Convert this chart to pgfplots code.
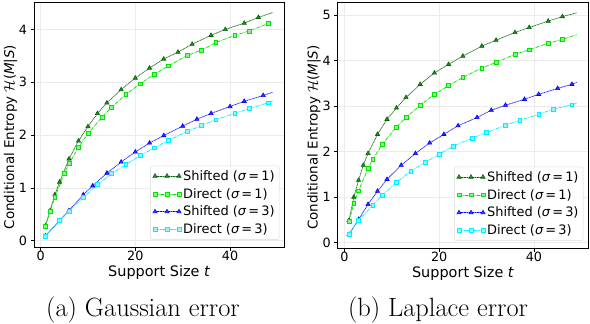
\documentclass[border=0pt]{standalone}
\usepackage{fontspec}
\usepackage{pgfplots}
\pgfplotsset{compat=1.18}
\newfontfamily\dejavu{DejaVu Sans}
\definecolor{sdkg}{RGB}{0,100,0}
\definecolor{slime}{RGB}{0,230,0}
\definecolor{sblue}{RGB}{0,0,255}
\definecolor{scyan}{RGB}{0,240,255}
\definecolor{gridc}{RGB}{235,235,235}
\pgfplotsset{
  myax/.style={
    scale only axis,
    xmin=-1.4, xmax=51.4,
    xtick={0,20,40},
    axis line style={line width=0.6pt},
    tick align=outside,
    xtick pos=bottom, ytick pos=left,
    major tick length=3.5bp,
    tick style={black, line width=0.6pt},
    grid=major,
    grid style={gridc, line width=0.5pt},
    /pgf/number format/assume math mode=true,
    ticklabel style={font=\dejavu\fontsize{12.8}{15}\selectfont},
    xticklabel style={anchor=base, yshift=-9.5bp},
    xlabel={Support Size {\itshape t}},
    ylabel={Conditional Entropy $\mathcal{H}$({\itshape M}|{\itshape S})},
    xlabel style={font=\dejavu\fontsize{14.5}{17}\selectfont, at={(axis description cs:0.5,0)}, anchor=base, yshift=-29.5bp},
    ylabel style={font=\dejavu\fontsize{13.5}{16}\selectfont, at={(axis description cs:-0.094,0.449)}, anchor=center},
    legend cell align=left,
    legend style={font=\dejavu\fontsize{13}{15}\selectfont,
      draw=black!15, rounded corners=2pt, fill=white, fill opacity=0.85, text opacity=1,
      row sep=2.5bp, inner sep=2.5bp,
      at={(rel axis cs:0.981,0.029)}, anchor=south east},
    legend image code/.code={
      \draw[#1, solid, opacity=0.5, mark=none] (0bp,0bp) -- (24bp,0bp);
      \draw[mark repeat=2,mark phase=2,#1] plot coordinates {(0bp,0bp) (12bp,0bp) (24bp,0bp)};
    },
  },
  sA/.style={sdkg, densely dotted, line width=0.6pt, mark=triangle*, mark size=2.4bp,
     mark options={solid, fill=sdkg!80, draw=sdkg}},
  sB/.style={slime, dashed, line width=0.6pt, mark=square*, mark size=1.9bp,
     mark options={solid, fill=slime!45, draw=slime}},
  sC/.style={sblue, densely dotted, line width=0.6pt, mark=triangle*, mark size=2.4bp,
     mark options={solid, fill=sblue!80, draw=sblue}},
  sD/.style={scyan, dashdotted, line width=0.6pt, mark=square*, mark size=1.9bp,
     mark options={solid, fill=scyan!45, draw=scyan}},
  under/.style={solid, line width=0.7pt, opacity=0.45, mark=none, forget plot},
}
\begin{document}
\begin{tikzpicture}
\useasboundingbox (0,0) rectangle (590bp,-324bp);
% ---------------- (a) Gaussian ----------------
\begin{axis}[myax, at={(34bp,-247bp)}, anchor=south west,
  width=250bp, height=245bp, ymin=-0.12, ymax=4.52, ytick={0,1,2,3,4}]
\addplot[sdkg, under] coordinates {(1,0.28)(2,0.57)(3,0.87)(4,1.11)(6,1.55)(8,1.89)(10,2.16)(12,2.41)(14,2.61)(17,2.86)(20,3.08)(23,3.27)(26,3.44)(29,3.57)(32,3.72)(36,3.89)(39,4.00)(43,4.12)(46,4.23)(49,4.32)};
\addplot[sA, mark indices={1,2,3,4,5,6,7,8,9,10,11,12,13,14,15,16,17,18,19}] coordinates {(1,0.28)(2,0.57)(3,0.87)(4,1.11)(6,1.55)(8,1.89)(10,2.16)(12,2.41)(14,2.61)(17,2.86)(20,3.08)(23,3.27)(26,3.44)(29,3.57)(32,3.72)(36,3.89)(39,4.00)(43,4.12)(46,4.23)(49,4.32)};
\addlegendentry{Shifted ({\itshape σ}\,=\,1)}
\addplot[slime, under] coordinates {(1,0.27)(2,0.56)(3,0.82)(5,1.27)(6,1.46)(8,1.77)(10,2.03)(13,2.34)(15,2.53)(18,2.77)(21,2.97)(24,3.15)(27,3.31)(31,3.51)(34,3.61)(37,3.75)(41,3.89)(44,3.97)(48,4.11)(49,4.14)};
\addplot[sB, mark indices={1,2,3,4,5,6,7,8,9,10,11,12,13,14,15,16,17,18,19}] coordinates {(1,0.27)(2,0.56)(3,0.82)(5,1.27)(6,1.46)(8,1.77)(10,2.03)(13,2.34)(15,2.53)(18,2.77)(21,2.97)(24,3.15)(27,3.31)(31,3.51)(34,3.61)(37,3.75)(41,3.89)(44,3.97)(48,4.11)(49,4.14)};
\addlegendentry{Direct ({\itshape σ}\,=\,1)}
\addplot[sblue, under] coordinates {(1,0.09)(4,0.38)(6,0.57)(9,0.87)(11,1.04)(14,1.28)(17,1.49)(20,1.68)(23,1.85)(26,1.99)(30,2.17)(33,2.30)(36,2.41)(40,2.54)(43,2.64)(47,2.75)(49,2.81)};
\addplot[sC, mark indices={1,2,3,4,5,6,7,8,9,10,11,12,13,14,15,16}] coordinates {(1,0.09)(4,0.38)(6,0.57)(9,0.87)(11,1.04)(14,1.28)(17,1.49)(20,1.68)(23,1.85)(26,1.99)(30,2.17)(33,2.30)(36,2.41)(40,2.54)(43,2.64)(47,2.75)(49,2.81)};
\addlegendentry{Shifted ({\itshape σ}\,=\,3)}
\addplot[scyan, under] coordinates {(1,0.09)(4,0.38)(6,0.56)(9,0.82)(12,1.06)(15,1.27)(18,1.44)(21,1.61)(24,1.76)(27,1.90)(31,2.07)(34,2.18)(37,2.29)(41,2.41)(44,2.50)(48,2.61)(49,2.65)};
\addplot[sD, mark indices={1,2,3,4,5,6,7,8,9,10,11,12,13,14,15,16}] coordinates {(1,0.09)(4,0.38)(6,0.56)(9,0.82)(12,1.06)(15,1.27)(18,1.44)(21,1.61)(24,1.76)(27,1.90)(31,2.07)(34,2.18)(37,2.29)(41,2.41)(44,2.50)(48,2.61)(49,2.65)};
\addlegendentry{Direct ({\itshape σ}\,=\,3)}
\end{axis}
% ---------------- (b) Laplace ----------------
\begin{axis}[myax, at={(337.7bp,-248bp)}, anchor=south west,
  width=250.3bp, height=246bp, ymin=-0.12, ymax=5.29, ytick={0,1,2,3,4,5}]
\addplot[sdkg, under] coordinates {(1,0.49)(2,1.00)(3,1.37)(4,1.70)(5,1.96)(7,2.38)(9,2.71)(11,2.96)(13,3.19)(16,3.48)(19,3.73)(22,3.92)(25,4.10)(29,4.32)(32,4.45)(36,4.62)(39,4.73)(43,4.87)(46,4.97)(49,5.05)};
\addplot[sA, mark indices={1,2,3,4,5,6,7,8,9,10,11,12,13,14,15,16,17,18,19}] coordinates {(1,0.49)(2,1.00)(3,1.37)(4,1.70)(5,1.96)(7,2.38)(9,2.71)(11,2.96)(13,3.19)(16,3.48)(19,3.73)(22,3.92)(25,4.10)(29,4.32)(32,4.45)(36,4.62)(39,4.73)(43,4.87)(46,4.97)(49,5.05)};
\addlegendentry{Shifted ({\itshape σ}\,=\,1)}
\addplot[slime, under] coordinates {(1,0.47)(2,0.86)(3,1.14)(5,1.63)(6,1.83)(8,2.16)(11,2.54)(13,2.75)(16,3.02)(19,3.26)(22,3.45)(25,3.63)(29,3.84)(32,3.96)(36,4.14)(39,4.24)(43,4.38)(46,4.47)(49,4.57)};
\addplot[sB, mark indices={1,2,3,4,5,6,7,8,9,10,11,12,13,14,15,16,17,18}] coordinates {(1,0.47)(2,0.86)(3,1.14)(5,1.63)(6,1.83)(8,2.16)(11,2.54)(13,2.75)(16,3.02)(19,3.26)(22,3.45)(25,3.63)(29,3.84)(32,3.96)(36,4.14)(39,4.24)(43,4.38)(46,4.47)(49,4.57)};
\addlegendentry{Direct ({\itshape σ}\,=\,1)}
\addplot[sblue, under] coordinates {(1,0.18)(3,0.51)(5,0.84)(7,1.13)(9,1.39)(12,1.70)(15,1.96)(18,2.19)(21,2.38)(24,2.57)(28,2.75)(31,2.91)(34,3.02)(38,3.15)(41,3.26)(45,3.39)(48,3.48)(49,3.52)};
\addplot[sC, mark indices={1,2,3,4,5,6,7,8,9,10,11,12,13,14,15,16,17}] coordinates {(1,0.18)(3,0.51)(5,0.84)(7,1.13)(9,1.39)(12,1.70)(15,1.96)(18,2.19)(21,2.38)(24,2.57)(28,2.75)(31,2.91)(34,3.02)(38,3.15)(41,3.26)(45,3.39)(48,3.48)(49,3.52)};
\addlegendentry{Shifted ({\itshape σ}\,=\,3)}
\addplot[scyan, under] coordinates {(1,0.18)(3,0.49)(6,0.82)(8,1.04)(11,1.32)(14,1.57)(17,1.76)(20,1.94)(23,2.12)(27,2.30)(30,2.42)(34,2.58)(37,2.69)(41,2.82)(44,2.93)(48,3.03)(49,3.06)};
\addplot[sD, mark indices={1,2,3,4,5,6,7,8,9,10,11,12,13,14,15,16}] coordinates {(1,0.18)(3,0.49)(6,0.82)(8,1.04)(11,1.32)(14,1.57)(17,1.76)(20,1.94)(23,2.12)(27,2.30)(30,2.42)(34,2.58)(37,2.69)(41,2.82)(44,2.93)(48,3.03)(49,3.06)};
\addlegendentry{Direct ({\itshape σ}\,=\,3)}
\end{axis}
\node[anchor=base, font=\fontsize{26.5}{30}\selectfont] at (143bp,-316bp) {(a) Gaussian error};
\node[anchor=base, font=\fontsize{26.5}{30}\selectfont] at (438bp,-316bp) {(b) Laplace error};
\end{tikzpicture}
\end{document}
